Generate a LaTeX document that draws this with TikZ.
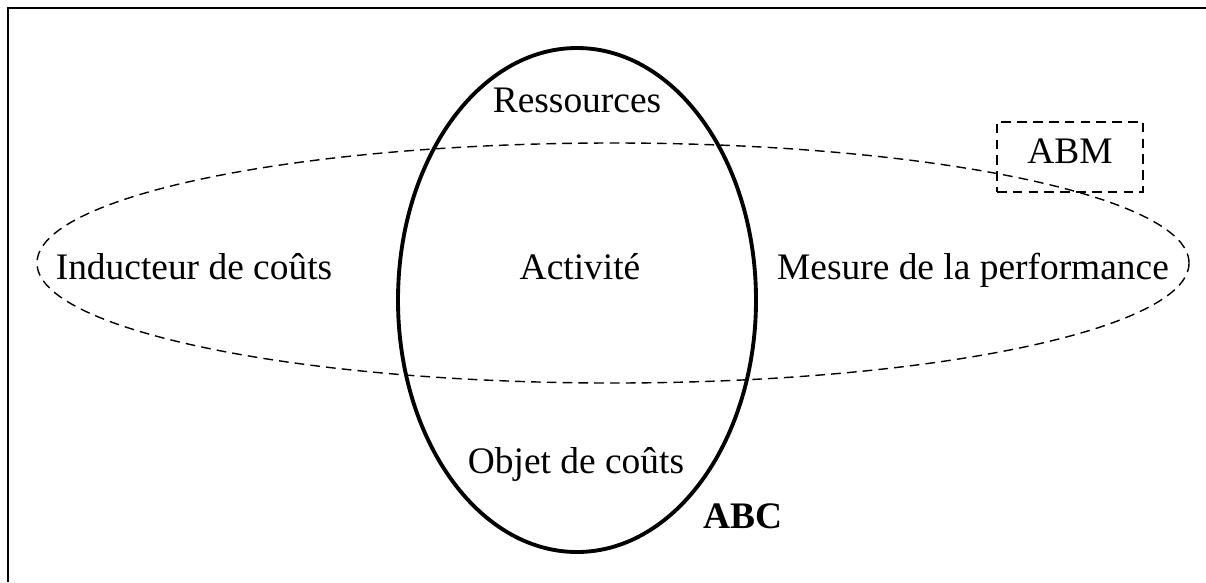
\documentclass[tikz,border=0pt]{standalone}
\usepackage{fontspec}
\setmainfont{Liberation Serif}
\usetikzlibrary{shapes.geometric}

\begin{document}
\begin{tikzpicture}[
        x=0.02cm, y=-0.02cm,
        label/.style={font=\fontsize{21.3}{24}\selectfont, inner sep=0pt,
            text height=0.68em, text depth=0.22em},
        abcoval/.style={ellipse, draw, line width=2.2pt, inner sep=0pt,
            minimum width=358*0.02cm, minimum height=504*0.02cm},
        abmoval/.style={ellipse, draw, line width=0.8pt, inner sep=0pt,
            dash pattern=on 5.5pt off 3.5pt,
            minimum width=1152*0.02cm, minimum height=240*0.02cm},
        tagbox/.style={draw, line width=0.8pt, dash pattern=on 5.5pt off 3.5pt,
            minimum width=146*0.02cm, minimum height=70*0.02cm}
    ]
        \useasboundingbox (0,0) rectangle (1206,582);

        % Frame
        \draw[line width=1.3pt] (8,582) -- (8,8) -- (1206,8);

        % Ovals
        \node[abmoval] (ABM-oval) at (613,263) {};
        \node[abcoval] (ABC-oval) at (577,300) {};

        % Labels
        \node[label] (res) at (577,108) {Ressources};
        \node[label] (ind) at (194,275) {Inducteur de coûts};
        \node[label] (act) at (580,275) {Activité};
        \node[label] (mes) at (973,275) {Mesure de la performance};
        \node[label] (obj) at (576,469) {Objet de coûts};
        \node[label, font=\fontsize{21.3}{24}\selectfont\bfseries] (abc) at (743,524) {ABC};
        \node[tagbox] (abm) at (1070,157) {};
        \node[label] (abm-text) at (1070,159) {ABM};
    \end{tikzpicture}
\end{document}
